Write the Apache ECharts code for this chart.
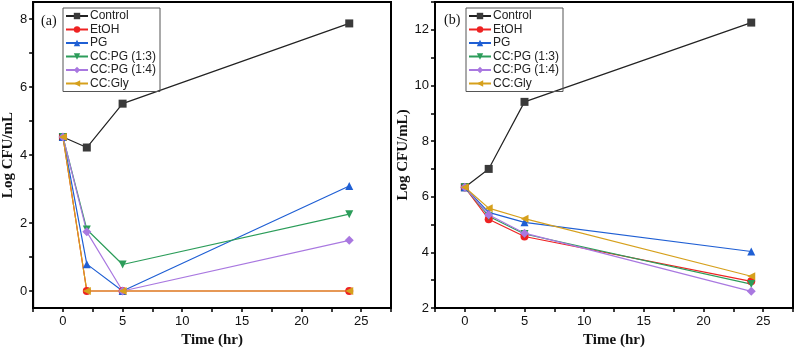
<!DOCTYPE html>
<html>
<head>
<meta charset="utf-8">
<script src="https://cdn.jsdelivr.net/npm/echarts@6/dist/echarts.min.js"></script>
<style>
  html, body { margin: 0; padding: 0; background: #fff; }
  #chart { width: 798px; height: 358px; }
</style>
</head>
<body>
<div id="chart"></div>
<script>
// time points (hr)
const times = [0, 2, 5, 24];
const seriesNames = ["Control", "EtOH", "PG", "CC:PG (1:3)", "CC:PG (1:4)", "CC:Gly"];

// panel (a) Log CFU/mL
const aControl = [4.53, 4.22, 5.51, 7.87];
const aEtOH = [4.53, 0, 0, 0];
const aPG = [4.53, 0.79, 0, 3.09];
const aCCPG13 = [4.53, 1.81, 0.78, 2.26];
const aCCPG14 = [4.53, 1.74, 0, 1.49];
const aCCGly = [4.53, 0, 0, 0];

// panel (b) Log CFU/mL
const bControl = [6.34, 7.0, 9.41, 12.26];
const bEtOH = [6.34, 5.19, 4.57, 2.96];
const bPG = [6.34, 5.44, 5.08, 4.03];
const bCCPG13 = [6.34, 5.3, 4.66, 2.86];
const bCCPG14 = [6.34, 5.35, 4.69, 2.6];
const bCCGly = [6.34, 5.59, 5.21, 3.14];

const colors = ["#3a3a3a", "#ee2222", "#1f5fd4", "#2c9d5a", "#a978e0", "#d6a01c"];
const symbols = ["rect", "circle", "triangle", "triangle", "diamond", "triangle"];
const rotations = [0, 0, 0, 180, 0, 90];

document.addEventListener("DOMContentLoaded", function () {
    let chart = echarts.init(document.getElementById("chart"));

    const panelA = [aControl, aEtOH, aPG, aCCPG13, aCCPG14, aCCGly];
    const panelB = [bControl, bEtOH, bPG, bCCPG13, bCCPG14, bCCGly];

    function makeSeries(values, idx, gridIdx) {
        return {
            name: seriesNames[idx],
            type: "line",
            xAxisIndex: gridIdx,
            yAxisIndex: gridIdx,
            data: times.map((t, i) => [t, values[i]]),
            symbol: symbols[idx],
            symbolRotate: rotations[idx],
            symbolSize: idx === 4 ? 9 : 8,
            color: colors[idx],
            lineStyle: { width: 1.2, color: idx === 0 ? "#222" : colors[idx] },
            itemStyle: { color: colors[idx] },
            animation: false
        };
    }

    let series = [];
    panelA.forEach((v, i) => series.push(makeSeries(v, i, 0)));
    panelB.forEach((v, i) => series.push(makeSeries(v, i, 1)));

    const tickFont = { fontFamily: "Liberation Sans", fontSize: 13, color: "#111" };
    const titleFont = { fontFamily: "Liberation Serif", fontWeight: "bold", fontSize: 15, color: "#111" };
    const xTicks = [-2.5, 0, 2.5, 5, 7.5, 10, 12.5, 15, 17.5, 20, 22.5, 25, 27.5];

    function xAxis(gridIdx) {
        return {
            type: "value",
            gridIndex: gridIdx,
            min: -2.5,
            max: 27.5,
            name: "Time (hr)",
            nameLocation: "middle",
            nameGap: 24,
            nameTextStyle: titleFont,
            axisLine: { onZero: false, lineStyle: { color: "#000", width: 2 } },
            axisTick: { show: true, inside: false, length: 4, customValues: xTicks, lineStyle: { color: "#000", width: 1.5 } },
            axisLabel: { customValues: [0, 5, 10, 15, 20, 25], margin: 7, ...tickFont },
            splitLine: { show: false }
        };
    }

    function yAxis(gridIdx, min, max, labels, ticks, name, gap) {
        return {
            type: "value",
            gridIndex: gridIdx,
            min: min,
            max: max,
            name: name,
            nameLocation: "middle",
            nameGap: gap,
            nameTextStyle: titleFont,
            axisLine: { onZero: false, lineStyle: { color: "#000", width: 2 } },
            axisTick: { show: true, inside: false, length: 4, customValues: ticks, lineStyle: { color: "#000", width: 1.5 } },
            axisLabel: { customValues: labels, margin: 6, ...tickFont },
            splitLine: { show: false }
        };
    }

    function legend(left) {
        return {
            data: seriesNames,
            orient: "vertical",
            left: left,
            top: 8,
            itemWidth: 22,
            itemHeight: 8,
            itemGap: 1.5,
            padding: [2, 4, 2, 2],
            borderColor: "#555",
            borderWidth: 1,
            selectedMode: false,
            textStyle: { fontFamily: "Liberation Sans", fontSize: 12, lineHeight: 12, color: "#222", padding: [0, 0, 0, -3] }
        };
    }

    let option = {
        backgroundColor: "#fff",
        animation: false,
        grid: [
            { left: 31, top: 2, width: 360, height: 306, show: true, borderColor: "#000", borderWidth: 2 },
            { left: 435, top: 2, width: 358, height: 306, show: true, borderColor: "#000", borderWidth: 2 }
        ],
        legend: [legend(63), legend(466)],
        xAxis: [xAxis(0), xAxis(1)],
        yAxis: [
            yAxis(0, -0.5, 8.5, [0, 2, 4, 6, 8], [0, 1, 2, 3, 4, 5, 6, 7, 8], "Log CFU/mL", 14),
            yAxis(1, 2, 13, [2, 4, 6, 8, 10, 12], [2, 3, 4, 5, 6, 7, 8, 9, 10, 11, 12, 13], "Log CFU/mL)", 20)
        ],
        graphic: [
            { type: "text", left: 41, top: 14, style: { text: "(a)", font: "14px 'Liberation Serif'", fill: "#111" } },
            { type: "text", left: 444, top: 13, style: { text: "(b)", font: "14px 'Liberation Serif'", fill: "#111" } }
        ],
        series: series
    };

    chart.setOption(option);
});
</script>
</body>
</html>
